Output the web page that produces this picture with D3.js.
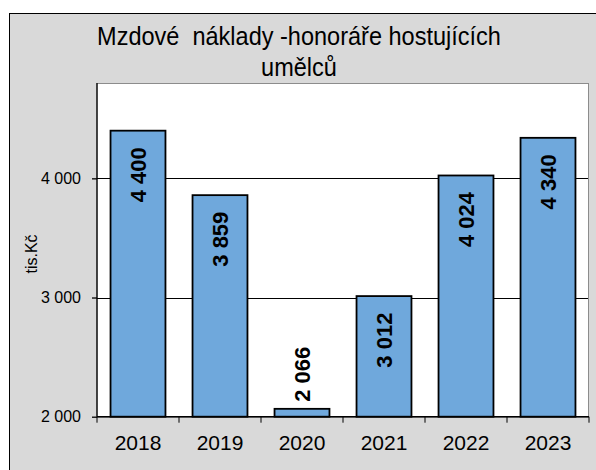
<!DOCTYPE html>
<html>
<head>
<meta charset="utf-8">
<script src="https://cdn.jsdelivr.net/npm/d3@7"></script>
<style>
  body { margin: 0; background: #fff; overflow: hidden; }
  text { font-family: "Liberation Sans", Arial, sans-serif; fill: #000; }
</style>
</head>
<body>
<div id="chart"></div>
<script>
// data
var years = ["2018", "2019", "2020", "2021", "2022", "2023"];
var costs = [4400, 3859, 2066, 3012, 4024, 4340];
var yTicks = [2000, 3000, 4000];
var titleLines = ["Mzdové  náklady -honoráře hostujících", "umělců"];

var width = 596, height = 470;
var pLeft = 97, pRight = 589, pTop = 83, pBottom = 416.7;

var fmt = function (v) { return d3.format(",")(v).replace(/,/g, " "); };

var svg = d3.select("#chart")
    .append("svg")
    .attr("width", width)
    .attr("height", height);

// chart background
svg.append("rect")
    .attr("x", 9.5).attr("y", 13.5)
    .attr("width", width).attr("height", height)
    .attr("fill", "#d9d9d9")
    .attr("stroke", "#000");

// title
var title = svg.append("g");
title.selectAll("text")
    .data(titleLines)
    .enter()
    .append("text")
    .attr("x", 299)
    .attr("y", function (d, i) { return 45.5 + i * 31; })
    .attr("text-anchor", "middle")
    .style("font-size", "25px")
    .style("white-space", "pre")
    .text(function (d) { return d; });
// squeeze title horizontally to match
var w0 = title.select("text").node().getComputedTextLength();
var sx = 404 / w0;
title.attr("transform", "translate(299,0) scale(" + sx + ",1) translate(-299,0)");

var x = d3.scaleBand()
    .domain(years)
    .range([pLeft, pRight])
    .paddingInner(0.33)
    .paddingOuter(0.165);

var y = d3.scaleLinear()
    .domain([2000, 4800])
    .range([pBottom, pTop]);

// plot area
svg.append("rect")
    .attr("x", pLeft).attr("y", pTop + 0.5)
    .attr("width", pRight - pLeft - 0.5).attr("height", pBottom - pTop)
    .attr("fill", "#fff")
    .attr("stroke", "#8c8c8c");

// gridlines
svg.selectAll("line.grid")
    .data(yTicks.filter(function (d) { return d > 2000; }))
    .enter()
    .append("line")
    .attr("class", "grid")
    .attr("x1", pLeft).attr("x2", pRight - 1)
    .attr("y1", function (d) { return Math.round(y(d)) + 0.5; })
    .attr("y2", function (d) { return Math.round(y(d)) + 0.5; })
    .attr("stroke", "#000");

// bars
svg.selectAll("rect.bar")
    .data(costs)
    .enter()
    .append("rect")
    .attr("class", "bar")
    .attr("x", function (d, i) { return x(years[i]); })
    .attr("y", function (d) { return y(d); })
    .attr("width", x.bandwidth())
    .attr("height", function (d) { return pBottom - y(d); })
    .attr("fill", "#6fa8dc")
    .attr("stroke", "#000")
    .attr("stroke-width", 1.8);

// bar labels
svg.selectAll("text.val")
    .data(costs)
    .enter()
    .append("text")
    .attr("class", "val")
    .attr("transform", function (d, i) {
        var cx = x(years[i]) + x.bandwidth() / 2;
        var inside = pBottom - y(d) > 80;
        var ty = inside ? y(d) + 16.5 : y(d) - 7;
        return "translate(" + cx + "," + ty + ") rotate(-90)";
    })
    .attr("text-anchor", function (d) { return pBottom - y(d) > 80 ? "end" : "start"; })
    .attr("dy", "0.36em")
    .style("font-size", "22px")
    .style("font-weight", "bold")
    .text(fmt);

// y axis
var yAxis = svg.append("g")
    .attr("transform", "translate(" + pLeft + ",0)")
    .call(d3.axisLeft(y).tickValues(yTicks).tickSize(5).tickPadding(11).tickFormat(fmt));
yAxis.selectAll("line, path").attr("stroke", "#000").attr("stroke-width", 1.3);
yAxis.select(".domain").attr("d", "M0," + pTop + "V" + pBottom);
yAxis.selectAll("text")
    .style("font-family", "'Liberation Sans', Arial, sans-serif")
    .style("font-size", "16px")
    .attr("fill", "#222");

// x axis, ticks between categories
var xAxis = svg.append("g")
    .attr("transform", "translate(0," + pBottom + ")");
xAxis.append("line")
    .attr("x1", pLeft).attr("x2", pRight)
    .attr("stroke", "#000").attr("stroke-width", 1.5);
xAxis.selectAll("line.tk")
    .data(d3.range(years.length + 1))
    .enter()
    .append("line")
    .attr("class", "tk")
    .attr("x1", function (i) { return i < years.length ? x(years[i]) - x.step() * x.paddingInner() / 2 : pRight; })
    .attr("x2", function (i) { return i < years.length ? x(years[i]) - x.step() * x.paddingInner() / 2 : pRight; })
    .attr("y1", 0).attr("y2", 6)
    .attr("stroke", "#000");
xAxis.selectAll("text")
    .data(years)
    .enter()
    .append("text")
    .attr("x", function (d) { return x(d) + x.bandwidth() / 2; })
    .attr("y", 33.5)
    .attr("text-anchor", "middle")
    .style("font-size", "21px")
    .attr("fill", "#222")
    .text(function (d) { return d; });

// y label
svg.append("text")
    .attr("transform", "translate(31,254) rotate(-90)")
    .attr("text-anchor", "middle")
    .attr("dy", "0.35em")
    .style("font-size", "16px")
    .text("tis.Kč");
</script>
</body>
</html>
